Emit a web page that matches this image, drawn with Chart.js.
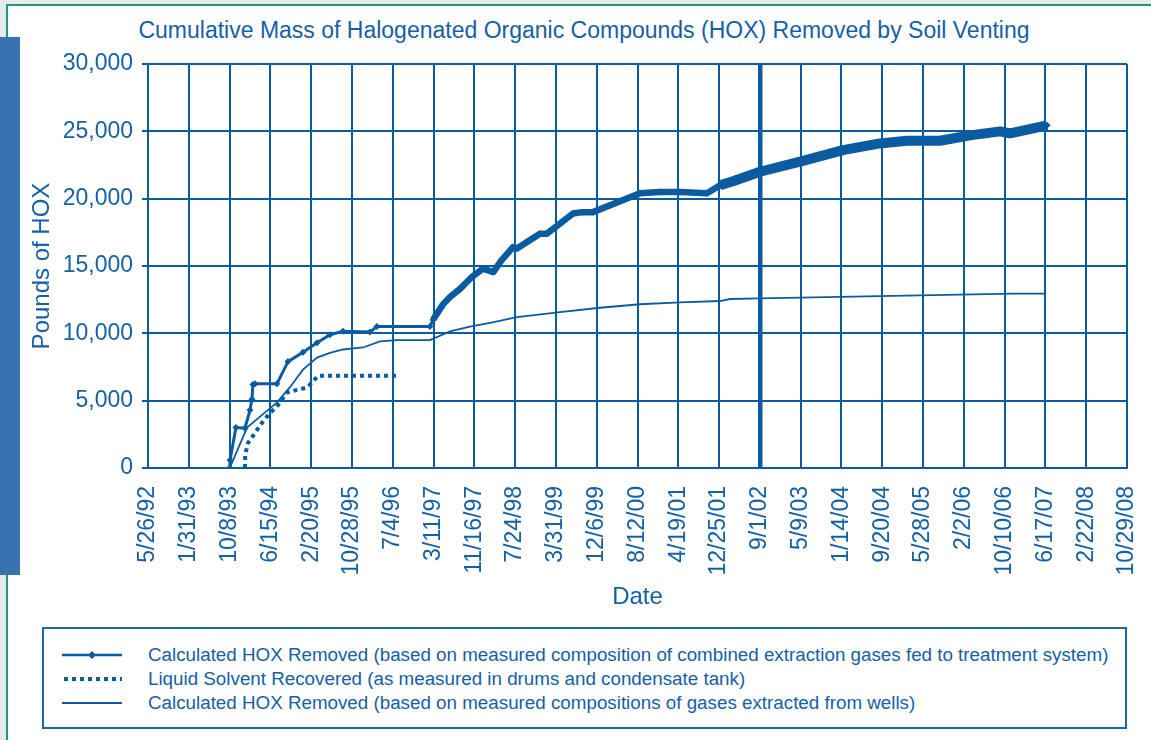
<!DOCTYPE html>
<html>
<head>
<meta charset="utf-8">
<script src="https://cdn.jsdelivr.net/npm/chart.js@4"></script>
<style>
    body { margin: 0; background: #e4e9f0; font-family: "Liberation Sans", Arial, sans-serif; }
    #frame {
        position: absolute; left: 6px; top: 4px; width: 1143px; height: 760px;
        background: #fff; border-left: 2px solid #1a9c63; border-top: 2px solid #1a9c63;
        border-right: 1px solid #7fd2ad;
    }
    #bar { position: absolute; left: 0; top: 37px; width: 20px; height: 538px; background: #3873b0; }
    #title {
        position: absolute; left: 0; top: 16px; width: 1168px; text-align: center;
        color: #1560a6; font-size: 23px; line-height: 28px; white-space: nowrap;
    }
    #wrap { position: absolute; left: 0; top: 0; width: 1151px; height: 620px; }
    #legend {
        position: absolute; left: 42px; top: 627px; width: 1081px; height: 98px;
        border: 2px solid #1f66ab; color: #1560a6; font-size: 18.8px;
    }
    #legend .row { position: absolute; left: 0; height: 24px; line-height: 24px; white-space: nowrap; }
    #legend svg { position: absolute; left: 18px; top: 0; }
    #legend span { position: absolute; left: 104px; }
</style>
</head>
<body>
<div id="frame"></div>
<div id="bar"></div>
<div id="title">Cumulative Mass of Halogenated Organic Compounds (HOX) Removed by Soil Venting</div>
<div id="wrap"><canvas id="myChart" width="1151" height="620"></canvas></div>
<div id="legend"></div>

<script>
// Calculated HOX removed (combined extraction gases fed to treatment system)
var combinedDates = ['10/9/93', '10/11/93', '11/16/93', '1/10/94', '2/10/94', '2/22/94', '2/28/94', '3/13/94',
    '7/25/94', '10/1/94', '1/1/95', '3/28/95', '6/15/95', '9/3/95', '2/15/96', '3/29/96', '2/17/97', '3/8/97',
    '5/8/97', '6/20/97', '8/20/97', '11/2/97', '1/8/98', '3/12/98', '4/30/98', '7/11/98', '8/4/98', '12/23/98',
    '2/4/99', '7/14/99', '9/9/99', '11/13/99', '8/27/00', '12/28/00', '4/29/01', '10/12/01', '12/31/01',
    '3/20/02', '9/2/02', '5/23/03', '1/23/04', '9/6/04', '2/19/05', '9/9/05', '3/12/06', '9/12/06',
    '11/12/06', '6/27/07'];
var combinedValues = [0, 600, 3000, 2950, 4300, 5100, 6200, 6250,
    6250, 7900, 8600, 9300, 9900, 10150, 10100, 10500, 10500, 11000,
    12150, 12700, 13300, 14200, 14800, 14550, 15400, 16400, 16300, 17400,
    17400, 18900, 19000, 19000, 20400, 20500, 20500, 20400, 21000,
    21300, 22000, 22800, 23600, 24100, 24300, 24300, 24700, 25000,
    24850, 25450];

// Liquid solvent recovered (drums and condensate tank)
var liquidDates = ['1/10/94', '1/12/94', '1/29/94', '3/13/94', '4/25/94', '6/13/94', '7/25/94', '9/25/94',
    '11/25/94', '1/25/95', '2/25/95', '4/3/95', '7/30/96'];
var liquidValues = [0, 1000, 1860, 2600, 3360, 4100, 4550, 5600,
    5800, 5970, 6340, 6850, 6850];

// Calculated HOX removed (gases extracted from wells)
var wellDates = ['10/9/93', '1/23/94', '5/1/94', '7/25/94', '10/13/94', '1/1/95', '3/28/95', '6/15/95',
    '9/3/95', '1/4/96', '4/17/96', '7/30/96', '2/17/97', '6/20/97', '10/20/97', '2/28/98', '8/4/98',
    '4/25/99', '12/26/99', '8/27/00', '4/29/01', '12/31/01', '3/2/02', '9/2/02', '9/6/04', '11/30/06',
    '6/20/07'];
var wellValues = [0, 3000, 4000, 4850, 6000, 7300, 8200, 8550,
    8800, 8950, 9400, 9500, 9500, 10150, 10500, 10800, 11200,
    11570, 11900, 12160, 12300, 12400, 12550, 12600, 12760, 12950,
    12950];

var yTicks = [0, 5000, 10000, 15000, 20000, 25000, 30000];

var BLUE = '#0b5ba1';
var TEXT = '#1560a6';
var FONT = '"Liberation Sans", Arial, sans-serif';
var START = Date.UTC(1992, 4, 26);   // first x tick, 5/26/92
var DAY = 86400000;

function toDay(s) {
    var p = s.split('/');
    var yr = +p[2];
    yr += yr < 50 ? 2000 : 1900;
    return Math.round((Date.UTC(yr, +p[0] - 1, +p[1]) - START) / DAY);
}

function fmtDay(v) {
    var d = new Date(START + v * DAY);
    var yy = String(d.getUTCFullYear() % 100).padStart(2, '0');
    return (d.getUTCMonth() + 1) + '/' + d.getUTCDate() + '/' + yy;
}

function pts(dates, values) {
    return dates.map((d, i) => ({ x: toDay(d), y: values[i] }));
}

document.addEventListener("DOMContentLoaded", () => {
    var ctx = document.getElementById('myChart').getContext('2d');
    var chart = new Chart(ctx, {
        type: 'line',
        data: {
            datasets: [{
                label: 'Calculated HOX Removed (based on measured composition of combined extraction gases fed to treatment system)',
                data: pts(combinedDates, combinedValues),
                borderColor: BLUE,
                backgroundColor: BLUE,
                borderWidth: 3,
                borderJoinStyle: 'round',
                pointStyle: 'rectRot',
                pointRadius: 3.5,
                pointBorderWidth: 0,
                segment: {
                    // line gets heavier where the markers crowd together
                    borderWidth: c => c.p0.parsed.x < 1740 ? 3 : (c.p0.parsed.x < 3500 ? 6.5 : 10)
                },
                fill: false
            },
            {
                label: 'Liquid Solvent Recovered (as measured in drums and condensate tank)',
                data: pts(liquidDates, liquidValues),
                borderColor: BLUE,
                borderWidth: 4,
                borderDash: [4, 4],
                pointRadius: 0,
                fill: false
            },
            {
                label: 'Calculated HOX Removed (based on measured compositions of gases extracted from wells)',
                data: pts(wellDates, wellValues),
                borderColor: BLUE,
                borderWidth: 1.8,
                pointRadius: 0,
                fill: false
            }]
        },
        options: {
            responsive: false,
            animation: false,
            layout: { padding: { left: 20, right: 24, top: 64, bottom: 0 } },
            plugins: {
                legend: { display: false },
                tooltip: { enabled: false }
            },
            scales: {
                x: {
                    type: 'linear',
                    min: 0,
                    max: 6000,
                    afterFit: s => { s.height = 152; s.paddingLeft = 0; s.paddingRight = 0; },
                    ticks: {
                        stepSize: 250,
                        autoSkip: false,
                        minRotation: 90,
                        maxRotation: 90,
                        padding: 18,
                        color: TEXT,
                        font: { family: FONT, size: 23 },
                        callback: v => fmtDay(v)
                    },
                    grid: {
                        color: BLUE,
                        lineWidth: c => (c.tick && c.tick.value === 3750) ? 4.5 : 2,
                        drawTicks: false
                    },
                    border: { color: BLUE, width: 2 },
                    title: {
                        display: true,
                        text: 'Date',
                        color: TEXT,
                        font: { family: FONT, size: 24 },
                        padding: { top: 0, bottom: 8 }
                    }
                },
                y: {
                    min: 0,
                    max: 30000,
                    afterFit: s => { s.width = 128; },
                    afterBuildTicks: s => { s.ticks = yTicks.map(v => ({ value: v })); },
                    ticks: {
                        color: TEXT,
                        padding: 9,
                        font: { family: FONT, size: 23 },
                        callback: v => v.toLocaleString('en-US')
                    },
                    grid: { color: BLUE, lineWidth: 2, tickLength: 6 },
                    border: { color: BLUE, width: 2 },
                    title: {
                        display: true,
                        text: 'Pounds of HOX',
                        color: TEXT,
                        font: { family: FONT, size: 24 },
                        padding: { top: 8, bottom: 0 }
                    }
                }
            }
        }
    });

    // boxed legend under the chart, built from the datasets
    var legend = document.getElementById('legend');
    var samples = [
        '<line x1="0" y1="12" x2="60" y2="12" stroke="' + BLUE + '" stroke-width="2.5"/><polygon points="30,8 34,12 30,16 26,12" fill="' + BLUE + '"/>',
        '<line x1="2" y1="12" x2="60" y2="12" stroke="' + BLUE + '" stroke-width="4" stroke-dasharray="4 4"/>',
        '<line x1="0" y1="12" x2="60" y2="12" stroke="' + BLUE + '" stroke-width="2"/>'
    ];
    chart.data.datasets.forEach((ds, i) => {
        var row = document.createElement('div');
        row.className = 'row';
        row.style.top = (14 + i * 24) + 'px';
        row.innerHTML = '<svg width="62" height="24">' + samples[i] + '</svg><span>' + ds.label + '</span>';
        legend.appendChild(row);
    });
});
</script>
</body>
</html>
